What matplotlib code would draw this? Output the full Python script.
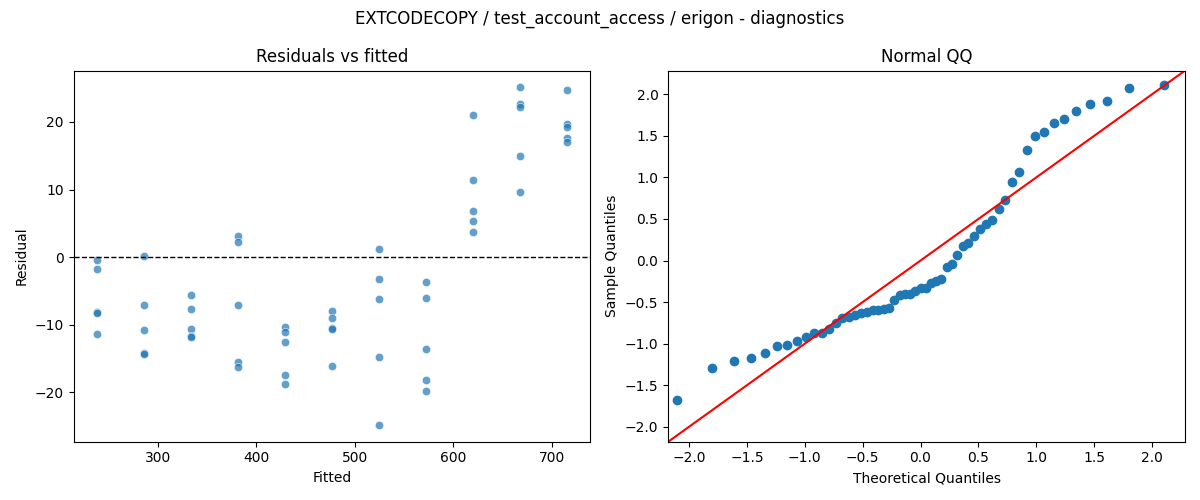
import numpy as np
import matplotlib
matplotlib.use("Agg")
import matplotlib.pyplot as plt
from statistics import NormalDist

# Fitted group levels and residuals
fitted_levels = [238.5, 286.2, 333.9, 381.6, 429.3, 477.0, 524.7, 572.4, 620.1, 667.8, 715.5]
residual_groups = [
    [-0.4, -1.8, -8.05, -8.2, -11.4],
    [0.15, -7.1, -10.8, -14.2, -14.25],
    [-5.65, -7.6, -10.6, -11.65, -11.75],
    [3.1, 2.3, -7.0, -15.5, -16.2],
    [-10.3, -11.1, -12.6, -17.4, -18.7],
    [-8.0, -9.0, -10.45, -10.55, -16.1],
    [1.2, -3.2, -6.2, -14.8, -24.8],
    [-3.7, -6.0, -13.6, -18.1, -19.8],
    [21.1, 11.4, 6.9, 5.4, 3.7],
    [25.1, 22.6, 22.2, 14.9, 9.7],
    [24.7, 19.7, 19.2, 17.7, 17.1],
]

fitted = np.array([f for f, g in zip(fitted_levels, residual_groups) for _ in g])
resid = np.array([r for g in residual_groups for r in g])

# QQ: standardized residuals vs normal theoretical quantiles
z = np.sort((resid - resid.mean()) / resid.std())
n = len(z)
nd = NormalDist()
theo = np.array([nd.inv_cdf(i / (n + 1)) for i in range(1, n + 1)])

fig, (ax1, ax2) = plt.subplots(1, 2, figsize=(12, 5), dpi=100)

ax1.scatter(fitted, resid, s=36, color="#1f77b4", alpha=0.7,
            edgecolors="white", linewidths=0.5)
ax1.axhline(0, color="black", linestyle="--", linewidth=1)
ax1.set_title("Residuals vs fitted")
ax1.set_xlabel("Fitted")
ax1.set_ylabel("Residual")

lims = (-2.18, 2.285)
ax2.plot(theo, z, "o", color="#1f77b4", markersize=6)
ax2.plot(lims, lims, color="red", linewidth=1.5)
ax2.set_xlim(lims)
ax2.set_ylim(lims)
ax2.set_title("Normal QQ")
ax2.set_xlabel("Theoretical Quantiles")
ax2.set_ylabel("Sample Quantiles")

fig.suptitle("EXTCODECOPY / test_account_access / erigon - diagnostics")
fig.tight_layout()
fig.savefig("out.png")
